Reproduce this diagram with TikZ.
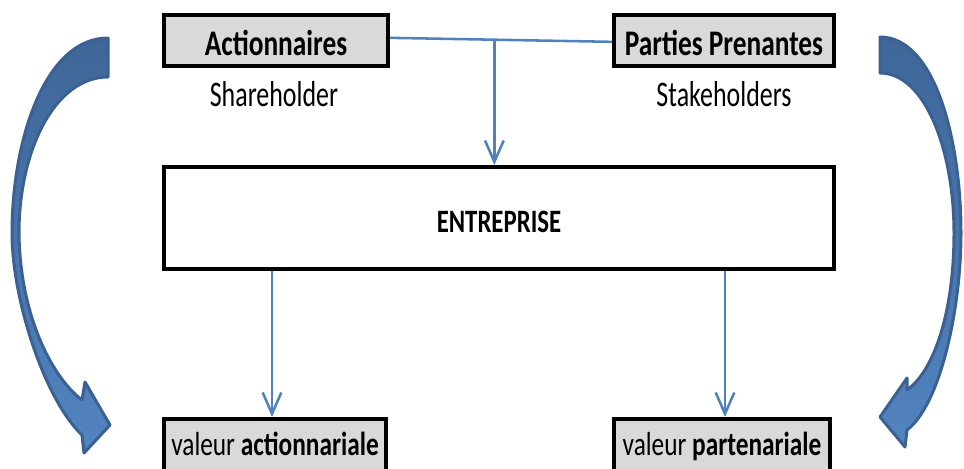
\documentclass[tikz,border=0pt]{standalone}
\usepackage{fontspec}
\setmainfont{Carlito}[FakeStretch=0.76]
\newfontfamily\subfont{Carlito}[FakeStretch=0.72]
\usetikzlibrary{arrows.meta,calc}
\definecolor{lnblue}{HTML}{4F81BD}
\definecolor{artop}{HTML}{3F6698}
\definecolor{arbot}{HTML}{5284C0}
\definecolor{arline}{HTML}{3A6191}
\definecolor{boxgray}{HTML}{D9D9D9}
\begin{document}
\begin{tikzpicture}[x=0.75pt,y=-0.75pt,
  graybox/.style={draw=black,line width=3pt,fill=boxgray,inner sep=0pt,
    font=\fontsize{27}{32}\selectfont\bfseries,text height=22.5pt,text depth=0pt,
    minimum height=38.25pt},
  botbox/.style={draw=black,line width=3pt,fill=boxgray,inner sep=0pt,
    font=\fontsize{25}{30}\selectfont,text height=20pt,text depth=18.5pt,
    minimum height=52.5pt},
  entbox/.style={draw=black,line width=3pt,fill=white,inner sep=0pt,
    font=\fontsize{24.5}{29}\selectfont\bfseries,text height=21pt,text depth=0pt,
    minimum width=502.5pt,minimum height=76.5pt},
  sublabel/.style={inner sep=0pt,anchor=base,font=\subfont\fontsize{27}{32}\selectfont},
  conn/.style={draw=lnblue,line width=1.9pt},
  arr/.style={conn,-{Straight Barb[length=16pt,width=14pt]}},
  arrowshape/.style={draw=arline,line width=2.25pt,line join=round,
    top color=artop,bottom color=arbot}
]
\path[use as bounding box] (0,0) rectangle (964,468);
\clip (0,0) rectangle (964,468);

% curved arrows
\path[arrowshape] (108,38) .. controls (45,38) and (12,140) .. (12,233)
  .. controls (12,300) and (45,400) .. (82,435)
  -- (84,453) -- (110,425) -- (85,382) -- (82,400)
  .. controls (55,380) and (20,320) .. (19,233)
  .. controls (19,150) and (55,77) .. (108,77) -- cycle;
\path[arrowshape] (880,37) .. controls (935,37) and (961,140) .. (961,233)
  .. controls (961,310) and (940,405) .. (907,430)
  -- (905,447) -- (880,417) -- (907,378) -- (907,390)
  .. controls (935,370) and (954,310) .. (954,233)
  .. controls (954,150) and (925,73) .. (880,73) -- cycle;

% boxes
\node[graybox,minimum width=168pt] (act) at (276,40.5) {Actionnaires};
\node[graybox,minimum width=165pt] (par) at (724,40.5) {Parties Prenantes};
\node[sublabel] (sh) at (274,106) {Shareholder};
\node[sublabel] (st) at (724,106) {Stakeholders};
\node[entbox] (ent) at (499,218) {ENTREPRISE};
\node[botbox,minimum width=166.5pt] (va) at (275,454) {valeur \textbf{actionnariale}};
\node[botbox,minimum width=162pt] (vp) at (722,454) {valeur \textbf{partenariale}};

% connectors
\draw[conn] ([yshift=2pt]act.east) -- ([yshift=-1pt]par.west);
\coordinate (j) at ($([yshift=2pt]act.east)!0.47!([yshift=-1pt]par.west)$);
\draw[arr] (j) -- (j |- ent.north);
\draw[arr] ([xshift=-2.25pt]va.north |- ent.south) -- ([xshift=-2.25pt]va.north);
\draw[arr] ([xshift=2.25pt]vp.north |- ent.south) -- ([xshift=2.25pt]vp.north);
\end{tikzpicture}
\end{document}
